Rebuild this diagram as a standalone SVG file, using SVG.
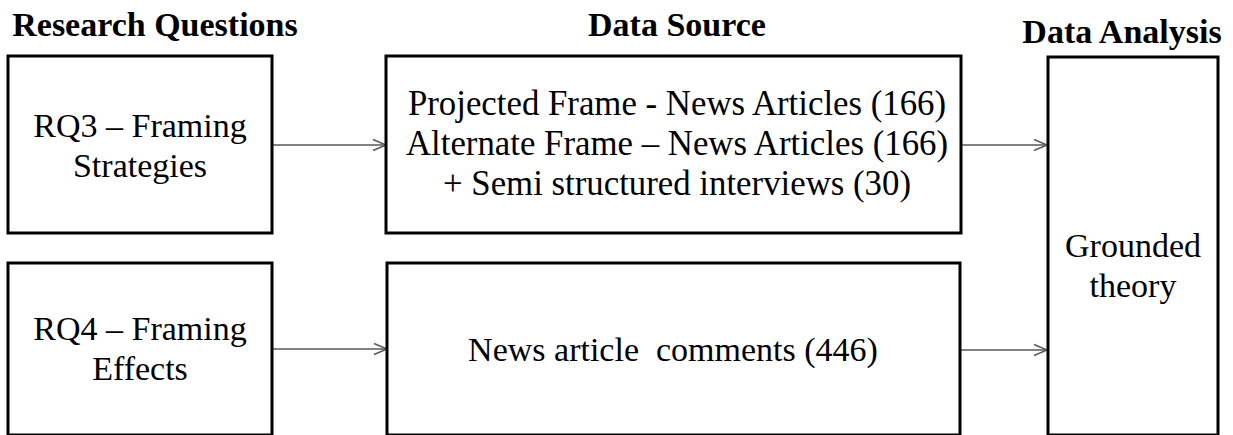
<svg xmlns="http://www.w3.org/2000/svg" width="1233" height="435" viewBox="0 0 1233 435">
  <style>
    text { font-family: "Liberation Serif", "Times New Roman", serif; font-size: 34px; fill: #000; }
    .title { font-weight: bold; }
    .wide { font-size: 34.8px; }
    .box { fill: #fff; stroke: #000; stroke-width: 3; }
    .conn { fill: none; stroke: #595959; stroke-width: 1.5; }
  </style>
  <defs>
    <marker id="open-arrow" markerUnits="userSpaceOnUse" markerWidth="16" markerHeight="14" refX="14" refY="7" orient="auto">
      <path d="M1,1.5 L14,7 L1,12.5" fill="none" stroke="#595959" stroke-width="1.5"/>
    </marker>
  </defs>

  <rect width="1233" height="435" fill="#fff"/>

  <!-- column headings -->
  <text class="title" x="155" y="36" text-anchor="middle">Research Questions</text>
  <text class="title" x="677" y="36" text-anchor="middle">Data Source</text>
  <text class="title" x="1122" y="43" text-anchor="middle">Data Analysis</text>

  <!-- connectors -->
  <g id="connectors">
    <line class="conn" x1="273" y1="145" x2="386" y2="145" marker-end="url(#open-arrow)"/>
    <line class="conn" x1="962" y1="145" x2="1047" y2="145" marker-end="url(#open-arrow)"/>
    <line class="conn" x1="273" y1="349" x2="387" y2="349" marker-end="url(#open-arrow)"/>
    <line class="conn" x1="961" y1="350" x2="1047" y2="350" marker-end="url(#open-arrow)"/>
  </g>

  <g id="rq3">
    <rect class="box" x="8" y="56" width="264" height="177"/>
    <text x="140" y="137" text-anchor="middle">RQ3 – Framing</text>
    <text x="140" y="177" text-anchor="middle">Strategies</text>
  </g>

  <g id="rq4">
    <rect class="box" x="8" y="263" width="264" height="172"/>
    <text x="140" y="340" text-anchor="middle">RQ4 – Framing</text>
    <text x="140" y="380" text-anchor="middle">Effects</text>
  </g>

  <g id="source-articles">
    <rect class="box" x="386" y="56" width="575" height="177"/>
    <text class="wide" x="677" y="115" text-anchor="middle">Projected Frame - News Articles (166)</text>
    <text class="wide" x="677" y="155" text-anchor="middle">Alternate Frame – News Articles (166)</text>
    <text class="wide" x="677" y="195" text-anchor="middle">+ Semi structured interviews (30)</text>
  </g>

  <g id="source-comments">
    <rect class="box" x="387" y="263" width="573" height="172"/>
    <text x="673" y="361" text-anchor="middle" xml:space="preserve">News article  comments (446)</text>
  </g>

  <g id="analysis">
    <rect class="box" x="1048" y="57" width="170" height="378"/>
    <text x="1133" y="257" text-anchor="middle">Grounded</text>
    <text x="1133" y="297" text-anchor="middle">theory</text>
  </g>
</svg>
